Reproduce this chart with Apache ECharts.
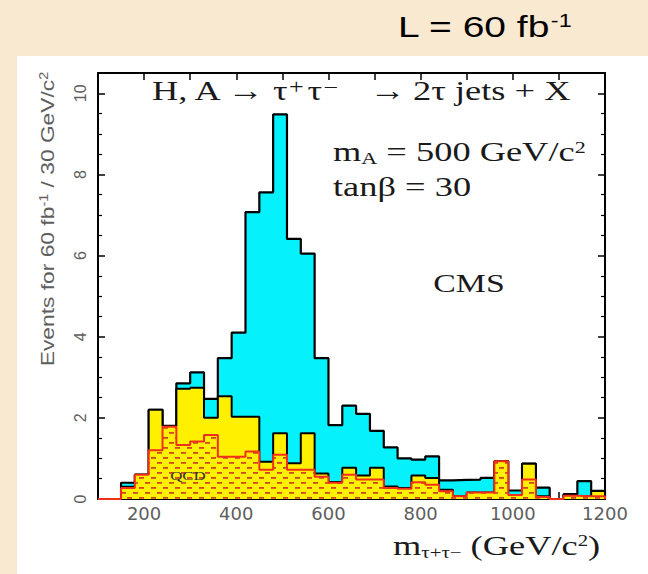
<!DOCTYPE html>
<html>
<head>
<meta charset="utf-8">
<script src="https://cdn.jsdelivr.net/npm/echarts@6/dist/echarts.min.js"></script>
<style>
  html, body { margin: 0; padding: 0; background: #F8E9D0; }
  #chart { width: 648px; height: 574px; }
</style>
</head>
<body>
<div id="chart"></div>
<script>
// Di-tau invariant mass, 30 GeV/c^2 bins (left edges listed)
const binLeft = [150, 180, 210, 240, 270, 300, 330, 360, 390, 420, 450, 480, 510, 540,
                 570, 600, 630, 660, 690, 720, 750, 780, 810, 840, 870, 900, 930, 960,
                 990, 1020, 1050, 1080, 1110, 1140, 1170];
const binWidth = 30;

// Signal (H, A) + all backgrounds
const signalPlusBackground = [0.40, 0.60, 2.20, 1.80, 2.85, 3.12, 2.47, 3.47, 4.10, 7.07,
                              7.56, 9.48, 6.41, 6.05, 3.47, 1.82, 2.30, 2.10, 1.68, 1.27,
                              1.00, 0.97, 1.05, 0.46, 0.47, 0.48, 0.52, 0.93, 0.21, 0.87,
                              0.28, 0.00, 0.12, 0.44, 0.20];
// Sum of all backgrounds
const totalBackground = [0.30, 0.60, 2.20, 1.80, 2.72, 2.74, 2.00, 2.53, 2.03, 2.03,
                         0.92, 1.62, 0.88, 1.62, 0.63, 0.42, 0.77, 0.58, 0.77, 0.31,
                         0.27, 0.58, 0.52, 0.23, 0.07, 0.16, 0.16, 0.93, 0.10, 0.87,
                         0.07, 0.00, 0.10, 0.07, 0.20];
// QCD multi-jet component
const qcdBackground = [0.27, 0.60, 1.20, 1.78, 1.33, 1.42, 1.58, 1.04, 1.04, 1.17,
                       0.72, 1.09, 0.72, 0.72, 0.55, 0.40, 0.60, 0.48, 0.48, 0.27,
                       0.25, 0.41, 0.35, 0.19, 0.07, 0.16, 0.16, 0.93, 0.10, 0.48,
                       0.05, 0.00, 0.08, 0.07, 0.07];

const xTickLabels = [200, 400, 600, 800, 1000, 1200];
const yTickLabels = [0, 2, 4, 6, 8, 10];

// Turn bin contents into the outline of a step histogram
function stairPoints(values, leadIn) {
  const pts = [];
  if (leadIn !== undefined) pts.push([leadIn, 0]);
  pts.push([binLeft[0], 0]);
  values.forEach((v, i) => {
    pts.push([binLeft[i], v]);
    pts.push([binLeft[i] + binWidth, v]);
  });
  pts.push([binLeft[binLeft.length - 1] + binWidth, 0]);
  return pts;
}

// Dashed red hatching on yellow for the QCD component
function hatchTile() {
  const c = document.createElement('canvas');
  c.width = 12; c.height = 10;
  const g = c.getContext('2d');
  g.fillStyle = '#FFF000';
  g.fillRect(0, 0, 12, 10);
  g.fillStyle = '#D2491F';
  g.fillRect(1, 2, 5, 1.8);
  g.fillRect(7, 7, 5, 1.8);
  return c;
}

const serif = '"Liberation Serif", "DejaVu Serif", serif';
const sans = '"Liberation Sans", Arial, sans-serif';
const stretch = 1.3;
const ink = '#1a1a1a';

const chart = echarts.init(document.getElementById('chart'), null, { renderer: 'svg' });

const frameLine = { show: true, onZero: false, lineStyle: { color: '#000', width: 2 } };
const tickStyle = { show: true, inside: true, length: 7, lineStyle: { color: '#000', width: 1.5 } };

// Plain serif annotation placed inside the frame
function label(text, x, y, size, align) {
  return {
    type: 'text', x: x, y: y, scaleX: stretch, z: 100, silent: true,
    style: { text: text, fontFamily: serif, fontSize: size, fill: ink, verticalAlign: 'middle', align: align || 'left' }
  };
}

chart.setOption({
  animation: false,
  backgroundColor: 'transparent',
  grid: { left: 98, right: 43, top: 73, bottom: 75, containLabel: false },
  xAxis: [
    {
      type: 'value', min: 100, max: 1200, interval: 100, position: 'bottom',
      axisLine: frameLine, axisTick: tickStyle, splitLine: { show: false },
      axisLabel: {
        margin: 5, color: '#5e5e5e', fontFamily: '"DejaVu Sans", sans-serif', fontSize: 18,
        formatter: v => (xTickLabels.includes(v) ? String(v) : '')
      }
    },
    {
      type: 'value', min: 100, max: 1200, interval: 100, position: 'top',
      axisLine: frameLine, axisTick: tickStyle, splitLine: { show: false },
      axisLabel: { show: false }
    }
  ],
  yAxis: [
    {
      type: 'value', min: 0, max: 10.5, interval: 2, position: 'left',
      axisLine: frameLine, axisTick: tickStyle,
      minorTick: { show: true, splitNumber: 4, length: 4, lineStyle: { color: '#000', width: 1.2 } },
      splitLine: { show: false },
      axisLabel: {
        rotate: 90, margin: 10, color: '#5e5e5e', fontFamily: sans, fontSize: 16,
        formatter: v => (yTickLabels.includes(v) ? String(v) : '')
      }
    },
    {
      type: 'value', min: 0, max: 10.5, interval: 2, position: 'right',
      axisLine: frameLine, axisTick: tickStyle,
      minorTick: { show: true, splitNumber: 4, length: 4, lineStyle: { color: '#000', width: 1.2 } },
      splitLine: { show: false }, axisLabel: { show: false }
    }
  ],
  series: [
    {
      name: 'signal + background', type: 'line', xAxisIndex: 0, yAxisIndex: 0,
      data: stairPoints(signalPlusBackground), symbol: 'none', silent: true,
      lineStyle: { color: '#000', width: 2.2 },
      areaStyle: { color: '#05F2FD', opacity: 1 }, z: 2
    },
    {
      name: 'total background', type: 'line', xAxisIndex: 0, yAxisIndex: 0,
      data: stairPoints(totalBackground), symbol: 'none', silent: true,
      lineStyle: { color: '#000', width: 2 },
      areaStyle: { color: '#FFF000', opacity: 1 }, z: 3
    },
    {
      name: 'QCD', type: 'line', xAxisIndex: 0, yAxisIndex: 0,
      data: stairPoints(qcdBackground, 100), symbol: 'none', silent: true,
      lineStyle: { color: '#F2301A', width: 2 },
      areaStyle: { color: { image: hatchTile(), repeat: 'repeat' }, opacity: 1 }, z: 4
    }
  ],
  graphic: [
    { type: 'rect', z: -10, silent: true, shape: { x: 17, y: 56, width: 631, height: 518 }, style: { fill: '#ffffff' } },
    {
      type: 'text', x: 398, y: 27, scaleX: stretch, z: 100, silent: true,
      style: {
        text: '{b|L = 60 fb}{s|-1}', verticalAlign: 'middle', align: 'left',
        rich: {
          b: { fontFamily: sans, fontSize: 30, fill: '#000' },
          s: { fontFamily: sans, fontSize: 18, fill: '#000', verticalAlign: 'top' }
        }
      }
    },
    // process line: H, A -> tau tau -> 2 tau jets + X
    label('H, A', 152, 91, 28),
    label('→', 246, 91, 28, 'center'),
    {
      type: 'text', x: 273, y: 91, scaleX: stretch, z: 100, silent: true,
      style: {
        text: '{n|τ}{u|+}{n|τ}{u|−}', verticalAlign: 'middle', align: 'left',
        rich: {
          n: { fontFamily: serif, fontSize: 28, fill: ink },
          u: { fontFamily: serif, fontSize: 20, fill: ink, verticalAlign: 'top', padding: [0, 3, 0, 1] }
        }
      }
    },
    label('→', 388, 91, 28, 'center'),
    label('2τ jets + X', 413, 91, 28),
    {
      type: 'text', x: 333, y: 152, scaleX: stretch, z: 100, silent: true,
      style: {
        text: '{n|m}{d|A}{n| = 500 GeV/c}{u|2}', verticalAlign: 'middle', align: 'left',
        rich: {
          n: { fontFamily: serif, fontSize: 28, fill: ink },
          d: { fontFamily: serif, fontSize: 17, fill: ink, verticalAlign: 'bottom' },
          u: { fontFamily: serif, fontSize: 17, fill: ink, verticalAlign: 'top' }
        }
      }
    },
    label('tanβ = 30', 333, 187, 28),
    label('CMS', 469, 283, 26, 'center'),
    {
      type: 'text', x: 188, y: 476, scaleX: stretch, z: 100, silent: true,
      style: { text: 'QCD', fontFamily: serif, fontSize: 13, fill: '#333', verticalAlign: 'middle', align: 'center' }
    },
    {
      type: 'text', x: 393, y: 546, scaleX: stretch, z: 100, silent: true,
      style: {
        text: '{n|m}{d|τ+τ−}{n| (GeV/c}{u|2}{n|)}', verticalAlign: 'middle', align: 'left',
        rich: {
          n: { fontFamily: serif, fontSize: 28, fill: ink },
          d: { fontFamily: serif, fontSize: 16, fill: ink, verticalAlign: 'bottom' },
          u: { fontFamily: serif, fontSize: 16, fill: ink, verticalAlign: 'top' }
        }
      }
    },
    {
      type: 'text', x: 47, y: 219, rotation: Math.PI / 2, scaleX: 1.2, z: 100, silent: true,
      style: {
        text: '{n|Events for 60 fb}{u|-1}{n| / 30 GeV/c}{u|2}', verticalAlign: 'middle', align: 'center',
        rich: {
          n: { fontFamily: sans, fontSize: 19, fill: '#5e5e5e' },
          u: { fontFamily: sans, fontSize: 12, fill: '#5e5e5e', verticalAlign: 'top' }
        }
      }
    }
  ]
});
</script>
</body>
</html>
